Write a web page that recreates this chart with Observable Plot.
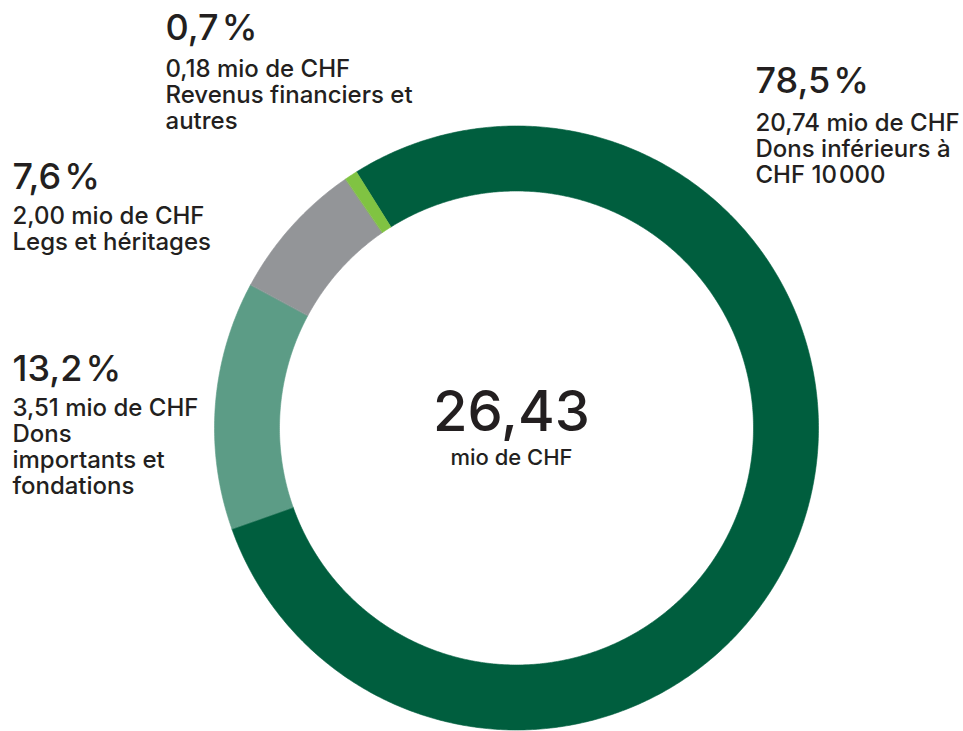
<!DOCTYPE html>
<html>
<head>
<meta charset="utf-8">
<script src="https://cdn.jsdelivr.net/npm/d3@7"></script>
<script src="https://cdn.jsdelivr.net/npm/@observablehq/plot@0.6"></script>
<style>
  html, body { margin: 0; padding: 0; background: #fff; }
  #chart svg { display: block; }
</style>
</head>
<body>
<div id="chart"></div>
<script>
// ---- data ----
const categories = [
  "Dons inférieurs à CHF 10 000",
  "Dons importants et fondations",
  "Legs et héritages",
  "Revenus financiers et autres"
];
const amounts = [20.74, 3.51, 2.00, 0.18];
const percentLabels = ["78,5\u200A%", "13,2\u200A%", "7,6\u200A%", "0,7\u200A%"];
const amountLabels = ["20,74 mio de CHF", "3,51 mio de CHF", "2,00 mio de CHF", "0,18 mio de CHF"];
const categoryLines = [
  ["Dons inférieurs à", "CHF 10\u200A000"],
  ["Dons", "importants et", "fondations"],
  ["Legs et héritages"],
  ["Revenus financiers et", "autres"]
];
const totalLabel = "26,43";
const totalUnit = "mio de CHF";
const colors = ["#005e3e", "#5c9c86", "#939598", "#80c342"];

// ---- layout ----
const W = 963, H = 731;
const ring = {cx: 516, cy: 427.5, outer: 302, inner: 237, startDeg: -32};
const labelLayout = [
  {x: 755, y: 92, gap: 38},
  {x: 12, y: 380, gap: 35},
  {x: 12, y: 188, gap: 35},
  {x: 165, y: 39, gap: 37}
];
const lineH = 26;
const subSize = 24;
const font = "Inter, 'Liberation Sans', Arial, sans-serif";
const textColor = "#231f20";

// ---- arcs from d3.pie ----
const start = ring.startDeg * Math.PI / 180;
const arcs = d3.pie().sort(null).startAngle(start).endAngle(start + 2 * Math.PI)(amounts);
const ringPts = [];
arcs.forEach((a, i) => {
  const n = Math.max(2, Math.ceil((a.endAngle - a.startAngle) / (Math.PI / 360)));
  const pts = [];
  for (let k = 0; k <= n; k++) {
    const t = a.startAngle + (a.endAngle - a.startAngle) * k / n;
    pts.push({x: ring.cx + ring.outer * Math.sin(t), y: ring.cy - ring.outer * Math.cos(t)});
  }
  for (let k = n; k >= 0; k--) {
    const t = a.startAngle + (a.endAngle - a.startAngle) * k / n;
    pts.push({x: ring.cx + ring.inner * Math.sin(t), y: ring.cy - ring.inner * Math.cos(t)});
  }
  pts.forEach(p => ringPts.push({...p, cat: categories[i]}));
});

// ---- label records (one block per slice) ----
const pctRows = [], subRows = [];
categories.forEach((c, i) => {
  const L = labelLayout[i];
  pctRows.push({x: L.x, y: L.y, text: percentLabels[i]});
  const lines = [amountLabels[i], ...categoryLines[i]];
  subRows.push({x: L.x, y: L.y + L.gap + (lines.length - 1) * lineH, text: lines.join("\n")});
});
const centerRows = [
  {x: 511, y: 430, text: totalLabel},
  {x: 511, y: 464, text: totalUnit}
];

const chart = Plot.plot({
  width: W,
  height: H,
  margin: 0,
  x: {domain: [0, W], range: [0, W], axis: null},
  y: {domain: [0, H], range: [0, H], axis: null},
  color: {domain: categories, range: colors},
  style: {fontFamily: font, background: "#fff"},
  marks: [
    Plot.line(ringPts, {x: "x", y: "y", z: "cat", fill: "cat", stroke: "cat", strokeWidth: 0.6, curve: "linear-closed"}),
    Plot.text(pctRows, {x: "x", y: "y", text: "text", textAnchor: "start", lineAnchor: "bottom", fontSize: 36, fontWeight: 500, fill: textColor, fontFamily: font, letterSpacing: "-0.02em"}),
    Plot.text(subRows, {x: "x", y: "y", text: "text", textAnchor: "start", lineAnchor: "bottom", lineHeight: lineH / subSize, fontSize: subSize, fontWeight: 500, fill: textColor, fontFamily: font, letterSpacing: "-0.01em"}),
    Plot.text(centerRows.slice(0, 1), {x: "x", y: "y", text: "text", textAnchor: "middle", lineAnchor: "bottom", fontSize: 56, fill: textColor, fontFamily: font, fontWeight: 500, letterSpacing: "-0.01em"}),
    Plot.text(centerRows.slice(1), {x: "x", y: "y", text: "text", textAnchor: "middle", lineAnchor: "bottom", fontSize: 22, fontWeight: 500, fill: textColor, fontFamily: font})
  ]
});
document.getElementById("chart").appendChild(chart);
</script>
</body>
</html>
